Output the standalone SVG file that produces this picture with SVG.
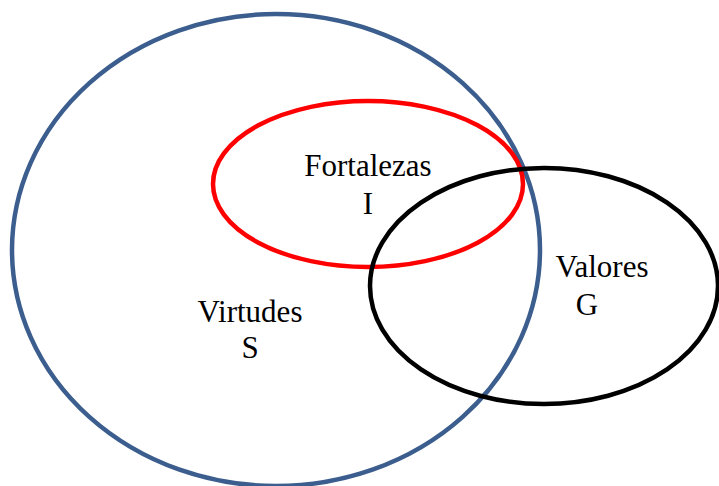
<svg xmlns="http://www.w3.org/2000/svg" width="719" height="486" viewBox="0 0 719 486">
<style>
.set{fill:none;stroke-width:4.5}
.lbl{font-family:"Liberation Serif","Times New Roman",serif;font-size:31px;fill:#000;text-anchor:middle}
</style>
<rect width="719" height="486" fill="#fff"/>
<g id="virtudes">
<ellipse class="set" cx="276" cy="250" rx="264" ry="236" stroke="#3B5E8E"/>
<text class="lbl" x="250" y="322">Virtudes</text>
<text class="lbl" x="250" y="358">S</text>
</g>
<g id="fortalezas">
<ellipse class="set" cx="368" cy="184" rx="155" ry="83" stroke="#FF0000"/>
<text class="lbl" x="368" y="176">Fortalezas</text>
<text class="lbl" x="368" y="214">I</text>
</g>
<g id="valores">
<ellipse class="set" cx="544" cy="286" rx="174" ry="118" stroke="#000"/>
<text class="lbl" x="602" y="277">Valores</text>
<text class="lbl" x="587" y="315">G</text>
</g>
<g id="connectors"/>
</svg>
